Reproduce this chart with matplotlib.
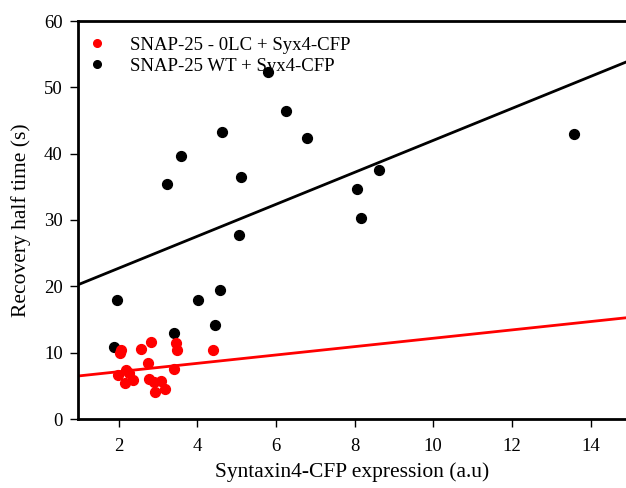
import matplotlib
matplotlib.use("Agg")
import matplotlib.pyplot as plt
from matplotlib.lines import Line2D

plt.rcParams['font.family'] = ['Liberation Serif', 'DejaVu Serif']

# SNAP-25 - 0LC + Syx4-CFP
lc_x = [2.07, 2.05, 2.58, 2.83, 2.75, 3.47, 3.48, 4.40, 2.18, 1.98,
        2.26, 2.36, 2.17, 2.77, 2.90, 3.09, 3.19, 2.93, 3.42]
lc_y = [10.4, 9.9, 10.6, 11.6, 8.5, 11.5, 10.4, 10.4, 7.4, 6.6,
        6.9, 5.9, 5.4, 6.0, 5.6, 5.8, 4.5, 4.0, 7.5]

# SNAP-25 WT + Syx4-CFP
wt_x = [1.88, 1.97, 3.22, 3.60, 3.41, 4.02, 4.46, 4.63, 4.59, 5.12,
        5.05, 5.79, 6.25, 6.78, 8.07, 8.17, 8.62, 13.58]
wt_y = [10.8, 18.0, 35.4, 39.7, 12.9, 17.9, 14.1, 43.2, 19.4, 36.5,
        27.7, 52.3, 46.4, 42.3, 34.7, 30.3, 37.6, 43.0]

# regression lines: (intercept, slope)
lc_fit = (5.87, 0.63)
wt_fit = (17.9, 2.41)

XLIM = (0.97, 14.9)

fig = plt.figure(figsize=(6.26, 4.88), dpi=100)
ax = fig.add_axes([78 / 626, 69 / 488, 548 / 626, 398 / 488])

ax.scatter(wt_x, wt_y, s=50, color='black', zorder=3)
ax.scatter(lc_x, lc_y, s=50, color='#ff0000', zorder=3)

for (b, m), c in ((wt_fit, 'black'), (lc_fit, '#ff0000')):
    ax.plot(XLIM, [b + m * XLIM[0], b + m * XLIM[1]], color=c, lw=2, zorder=2)

ax.set_xlim(*XLIM)
ax.set_ylim(0, 60)
ax.set_xticks(range(2, 15, 2))
ax.set_yticks(range(0, 61, 10))
ax.tick_params(direction='out', length=6, width=1, labelsize=13.5)
ax.tick_params(axis='x', pad=8)
ax.tick_params(axis='y', pad=5)
for side in ('left', 'bottom', 'top'):
    ax.spines[side].set_linewidth(2)
ax.spines['right'].set_visible(False)

ax.set_xlabel('Syntaxin4-CFP expression (a.u)', fontsize=15.5, labelpad=5)
ax.set_ylabel('Recovery half time (s)', fontsize=15.5, labelpad=9)

handles = [Line2D([], [], ls='none', marker='o', ms=5.5, color='#ff0000'),
           Line2D([], [], ls='none', marker='o', ms=5.5, color='black')]
ax.legend(handles, ['SNAP-25 - 0LC + Syx4-CFP', 'SNAP-25 WT + Syx4-CFP'],
          loc='upper left', frameon=False, fontsize=13.5, handlelength=1,
          handletextpad=1.25, labelspacing=0.2, borderaxespad=0.3,
          bbox_to_anchor=(-0.006, 0.993))

fig.savefig('out.png', dpi=100)
